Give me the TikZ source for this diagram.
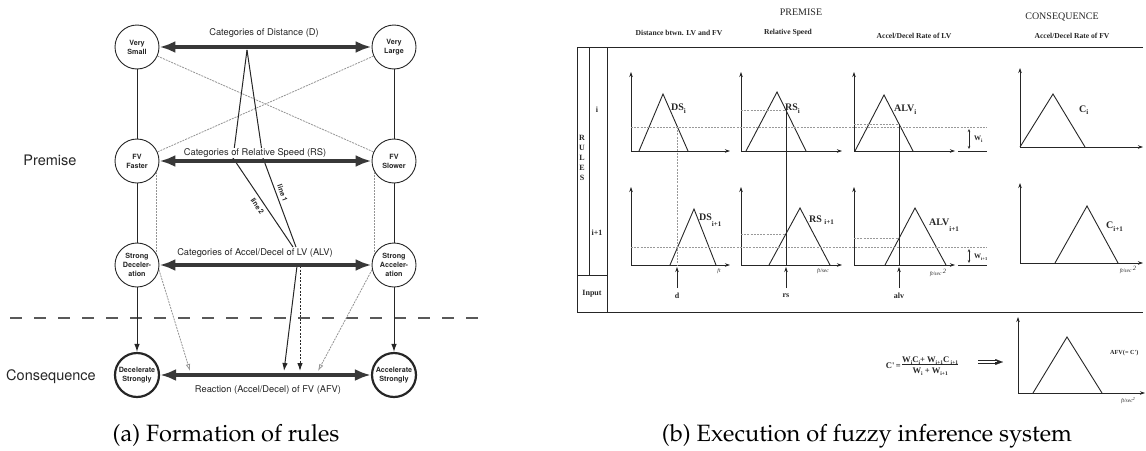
\documentclass[tikz,border=0pt]{standalone}
\usepackage[T1]{fontenc}
\usepackage{fontspec}
\usetikzlibrary{arrows.meta}
\newfontfamily\helv{TeX Gyre Heros}
\newfontfamily\tms{Liberation Serif}
\newcommand\palfont{\fontencoding{T1}\fontfamily{ppl}\selectfont}
% lowered index used in the membership-function labels
\newcommand\lowsub[2][-3.5pt]{\raisebox{#1}{\fontsize{7}{7}\selectfont #2}}
\newcommand\fsub[1]{\raisebox{-2pt}{\fontsize{5.5}{6}\selectfont #1}}
% axes of one membership plot: x of y-axis, base y, top y, end x
\newcommand\plotaxes[4]{%
  \draw[plotaxis] (#1,#2) -- (#1,#3);
  \draw[plotaxis] (#1,#2) -- (#4,#2);}
\definecolor{ink}{gray}{0.15}
\definecolor{barink}{gray}{0.22}
\definecolor{faint}{gray}{0.58}
\definecolor{cutgray}{gray}{0.6}

\begin{document}
\begin{tikzpicture}[x=1pt,y=-1pt,
  state/.style={circle,draw=ink,line width=0.9pt,minimum size=44pt,inner sep=0pt,
    align=center,fill=white,text=ink,font=\helv\bfseries\fontsize{7.2}{9}\selectfont},
  final/.style={state,line width=2.2pt},
  catbar/.style={draw=barink,line width=4pt,
    {Latex[length=16pt,width=12pt]}-{Latex[length=16pt,width=12pt]}},
  catlabel/.style={fill=white,inner sep=0.6pt,text=ink,font=\helv\fontsize{9.3}{11}\selectfont},
  sidelabel/.style={text=ink,font=\helv\fontsize{14.5}{17}\selectfont},
  link/.style={draw=ink,line width=1pt},
  downarrow/.style={link,-{Latex[length=8pt,width=5.5pt]}},
  faintline/.style={draw=faint,line width=0.8pt,dash pattern=on 2pt off 1pt},
  faintarrow/.style={faintline,-{Latex[length=7pt,width=4.5pt,open]}},
  linetag/.style={text=ink,font=\helv\bfseries\fontsize{7}{8}\selectfont,inner sep=0.5pt},
  separator/.style={draw=gray!70!black,line width=1.3pt,dash pattern=on 12pt off 12pt},
  subcap/.style={font=\palfont\fontsize{23.6}{27}\selectfont,anchor=base},
  rframe/.style={draw=ink,line width=0.9pt},
  plotaxis/.style={draw=ink,line width=0.7pt,-{Stealth[length=5pt,width=3.5pt]}},
  mfun/.style={draw=ink,line width=0.9pt,line join=miter},
  cutline/.style={draw=cutgray,line width=0.6pt,dash pattern=on 2pt off 1.2pt},
  probeline/.style={draw=ink,line width=0.6pt},
  inarrow/.style={draw=ink,line width=0.7pt,-{Stealth[length=5pt,width=3.5pt]}},
  wmark/.style={draw=ink,line width=0.6pt,{Stealth[length=3pt,width=2.5pt]}-{Stealth[length=3pt,width=2.5pt]}},
  hdr/.style={text=ink,font=\tms\fontsize{10}{12}\selectfont},
  colhdr/.style={text=ink,font=\tms\bfseries\fontsize{7.6}{9}\selectfont},
  mflabel/.style={text=ink,font=\tms\bfseries\fontsize{10}{12}\selectfont,anchor=base west,inner sep=0pt},
  cellt/.style={text=ink,font=\tms\bfseries\fontsize{8}{10}\selectfont},
  unit/.style={text=ink,font=\tms\itshape\fontsize{5.5}{6}\selectfont},
  formula/.style={text=ink,font=\tms\bfseries\fontsize{8.6}{10}\selectfont},
]
\useasboundingbox (0,0) rectangle (1146,450);

%% ---------------- (a) rule formation ----------------
\node[state] (vs) at (137,47) {Very\\Small};
\node[state] (vl) at (394,47) {Very\\Large};
\node[state] (ff) at (137,161) {FV\\Faster};
\node[state] (fs) at (394,161) {FV\\Slower};
\node[state] (sd) at (137,265) {Strong\\Deceler-\\ation};
\node[state] (sa) at (394,265) {Strong\\Acceler-\\ation};
\node[final] (dst) at (137,375) {Decelerate\\Strongly};
\node[final] (ast) at (394,375) {Accelerate\\Strongly};

\node[sidelabel] (premise) at (50,160) {Premise};
\node[sidelabel] (conseq) at (51,377) {Consequence};

\coordinate (sepl) at (10,318);
\coordinate (sepr) at (478,318);
\draw[separator] (sepl) -- (sepr);

% chains of each column
\draw[link] (vs) -- (ff);
\draw[link] (ff) -- (sd);
\draw[downarrow] (sd) -- (dst);
\draw[link] (vl) -- (fs);
\draw[link] (fs) -- (sa);
\draw[downarrow] (sa) -- (ast);

% weak cross links
\coordinate (afvl) at (190,371);
\coordinate (afvr) at (318,371);
\draw[faintline] (vs) -- (fs);
\draw[faintline] (vl) -- (ff);
\draw[faintline] (ff.-30) -- (sd.30);
\draw[faintline] (fs.-150) -- (sa.150);
\draw[faintarrow] (sd.-12) -- (afvl);
\draw[faintarrow] (sa.192) -- (afvr);

% line 1 and line 2 through the premise categories
\coordinate (apex) at (247,50);
\coordinate (l1a) at (263,158);
\coordinate (l2a) at (233,158);
\coordinate (meet1) at (296,247);
\coordinate (meet2) at (293,247);
\draw[link] (apex) -- (l1a) -- node[pos=0.42,sloped,above=2.5pt,linetag] (tag1) {line 1} (meet1);
\draw[link] (apex) -- (l2a) -- node[pos=0.5,sloped,below=3pt,linetag] (tag2) {line 2} (meet2);

% from ALV to the reaction
\coordinate (alva) at (297,266);
\coordinate (afva) at (284,371);
\coordinate (alvb) at (300,266);
\coordinate (afvb) at (300,371);
\draw[downarrow] (alva) -- (afva);
\draw[downarrow,dash pattern=on 2pt off 1.5pt] (alvb) -- (afvb);

% category bars
\draw[catbar] (vs) -- (vl);
\draw[catbar] (ff) -- (fs);
\draw[catbar] (sd) -- (sa);
\draw[catbar] (dst) -- (ast);

\node[catlabel] (dlab) at (264,33) {Categories of Distance (D)};
\node[catlabel] (rslab) at (255,153) {Categories of Relative Speed (RS)};
\node[catlabel] (alvlab) at (255,253) {Categories of Accel/Decel of LV (ALV)};
\node[catlabel] (afvlab) at (268,390) {Reaction (Accel/Decel) of FV (AFV)};

\node[subcap] (capa) at (226,441) {(a) Formation of rules};

%% ---------------- (b) fuzzy inference ----------------
\node[hdr] (hprem) at (801,12) {PREMISE};
\node[hdr] (hcons) at (1062,17) {CONSEQUENCE};
\node[colhdr] (hds) at (679,33) {Distance btwn. LV and FV};
\node[colhdr] (hrs) at (788,33) {Relative Speed};
\node[colhdr] (halv) at (914,36) {Accel/Decel Rate of LV};
\node[colhdr] (hafv) at (1072,36) {Accel/Decel Rate of FV};

% table frame
\draw[rframe] (1143,47) -- (577,47) -- (577,312) -- (1143,312);
\draw[rframe] (589,47) -- (589,275);
\draw[rframe] (607,47) -- (607,312);
\draw[rframe] (577,275) -- (607,275);
\node[cellt,align=center] (rules) at (582,158) {R\\U\\L\\E\\S};
\node[cellt] (rowi) at (597,110) {i};
\node[cellt] (rown) at (597,233) {i+1};
\node[cellt] (inp) at (592,294) {Input};

% rule i
\plotaxes{631}{151}{72}{730}
\plotaxes{741}{151}{72}{842}
\plotaxes{854}{151}{72}{955}
\plotaxes{1020}{147}{68}{1143}
\draw[mfun] (639,151) -- (663,94) -- (688,151);
\draw[mfun] (746,151) -- (777,92) -- (806,151);
\draw[mfun] (855,151) -- (884,95) -- (913,151);
\draw[mfun] (1020,147) -- (1053,94) -- (1085,147);
\node[mflabel] (dsi) at (671,110) {DS\lowsub{i}};
\node[mflabel] (rsi) at (785,110) {RS\lowsub{i}};
\node[mflabel] (alvi) at (894,111) {ALV\lowsub{i}};
\node[mflabel] (ci) at (1079,112) {C\lowsub[-2.5pt]{i}};

% rule i+1
\plotaxes{631}{265}{187}{730}
\plotaxes{741}{265}{187}{842}
\plotaxes{854}{265}{187}{955}
\plotaxes{1020}{263}{183}{1143}
\draw[mfun] (670,265) -- (694,209) -- (716,265);
\draw[mfun] (769,265) -- (800,208) -- (830,265);
\draw[mfun] (885,265) -- (915,208) -- (946,265);
\draw[mfun] (1055,263) -- (1087,206) -- (1118,263);
\node[mflabel] (dsn) at (699,220) {DS\lowsub[-6pt]{i+1}};
\node[mflabel] (rsn) at (809,222) {RS \lowsub[-2pt]{i+1}};
\node[mflabel] (alvn) at (929,225) {ALV\lowsub[-6pt]{i+1}};
\node[mflabel] (cn) at (1106,228) {C\lowsub[-3pt]{i+1}};

% firing levels
\draw[cutline] (631,127) -- (987,127);
\draw[cutline] (741,110) -- (786,110);
\draw[cutline] (854,124) -- (899,124);
\draw[cutline] (631,247) -- (987,247);
\draw[cutline] (741,234) -- (786,234);
\draw[cutline] (854,238) -- (899,238);
\draw[cutline] (677,127) -- (677,265);
\draw[probeline] (786,110) -- (786,265);
\draw[probeline] (899,124) -- (899,265);
\draw[probeline] (958,151) -- (987,151);
\draw[probeline] (958,265) -- (987,265);
\draw[wmark] (969,129) -- (969,149);
\draw[wmark] (969,249) -- (969,263);
\node[mflabel,font=\tms\bfseries\fontsize{7}{8}\selectfont] (wi) at (974,140) {W\lowsub[-2pt]{\fontsize{5}{5}\selectfont i}};
\node[mflabel,font=\tms\bfseries\fontsize{7}{8}\selectfont] (wn) at (974,258) {W\lowsub[-2pt]{\fontsize{4.5}{5}\selectfont i+1}};

% crisp inputs
\draw[inarrow] (677,288) -- (677,267);
\draw[inarrow] (786,288) -- (786,267);
\draw[inarrow] (899,288) -- (899,267);
\node[cellt] (dval) at (677,296) {d};
\node[cellt] (rsval) at (786,296) {rs};
\node[cellt] (alvval) at (899,296) {alv};

% units
\node[unit] (u1) at (719,271) {ft};
\node[unit] (u2) at (823,271) {ft/sec};
\node[unit] (u3) at (938,273) {ft/sec \raisebox{2pt}{\fontsize{6.5}{7}\selectfont 2}};
\node[unit] (u4) at (1128,270) {ft/sec \raisebox{2pt}{\fontsize{6.5}{7}\selectfont 2}};

% defuzzified output
\plotaxes{1018}{393}{317}{1145}
\draw[mfun] (1033,393) -- (1067,337) -- (1102,393);
\node[formula,anchor=west,inner sep=0pt,font=\tms\bfseries\fontsize{6.2}{7}\selectfont] (afvout) at (1110,353) {AFV(= C')};
\node[unit] (u5) at (1128,401) {ft/sec\raisebox{2pt}{\fontsize{4.5}{5}\selectfont 2}};
\node[formula,anchor=east,inner sep=1pt] (cprime) at (902,366) {C'\,=};
\node[formula,anchor=west,inner sep=0pt] (frac) at (902,366) {%
  \begin{tabular}{@{}c@{}}W\fsub{i}C\fsub{i}+ W\fsub{i+1}C\fsub{ i+1}\\[-1pt]\hline
  \rule{0pt}{9.5pt}W\fsub{i} + W\fsub{i+1}\end{tabular}};
% implication arrow
\coordinate (imp1) at (978,362);
\coordinate (imp2) at (1003,362);
\draw[draw=ink,line width=0.7pt] ([yshift=-1.2pt]imp1) -- ([xshift=-5pt,yshift=-1.2pt]imp2);
\draw[draw=ink,line width=0.7pt] ([yshift=1.2pt]imp1) -- ([xshift=-5pt,yshift=1.2pt]imp2);
\draw[draw=ink,line width=0.1pt,-{Stealth[length=8pt,width=6pt]}] ([xshift=-8pt]imp2) -- (imp2);

\node[subcap] (capb) at (867,441) {(b) Execution of fuzzy inference system};
\end{tikzpicture}
\end{document}
